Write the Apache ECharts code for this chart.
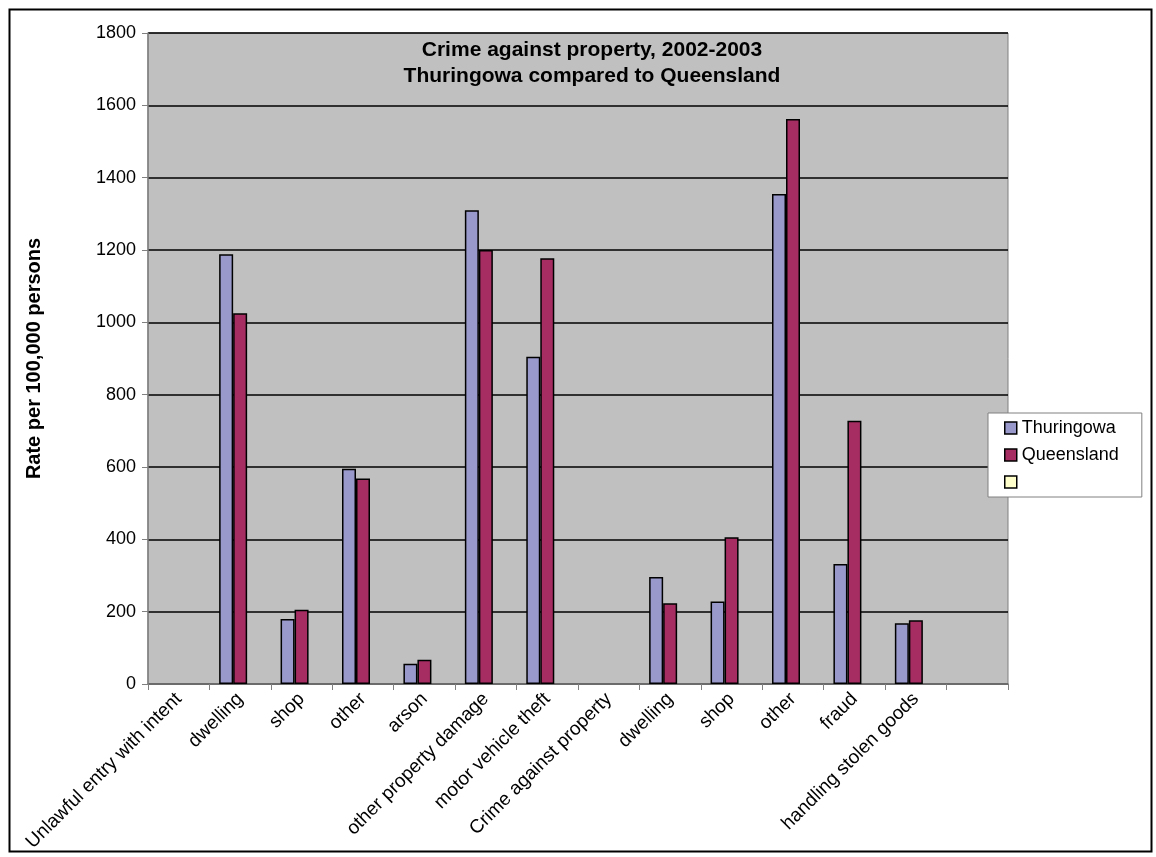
<!DOCTYPE html>
<html>
<head>
<meta charset="utf-8">
<script src="https://cdn.jsdelivr.net/npm/echarts@6/dist/echarts.min.js"></script>
<style>
  html, body { margin: 0; padding: 0; background: #ffffff; }
  #chart { width: 1156px; height: 857px; }
</style>
</head>
<body>
<div id="chart"></div>
<script>
// Offence categories along the x axis (last slot left empty)
const categories = [
  'Unlawful entry with intent', 'dwelling', 'shop', 'other', 'arson',
  'other property damage', 'motor vehicle theft', 'Crime against property',
  'dwelling', 'shop', 'other', 'fraud', 'handling stolen goods', ''
];

// Rates per 100,000 persons, 2002-2003
const thuringowa = [null, 1188, 180, 595, 56, 1310, 905, null, 296, 228, 1355, 332, 168, null];
const queensland = [null, 1025, 205, 568, 67, 1200, 1177, null, 223, 406, 1562, 728, 176, null];
const blankSeries = [null, null, null, null, null, null, null, null, null, null, null, null, null, null];

const yTicks = { min: 0, max: 1800, step: 200 };

const chart = echarts.init(document.getElementById('chart'));

const barStyle = (color) => ({
  color: color,
  borderColor: '#000000',
  borderWidth: 1.5
});

chart.setOption({
  animation: false,
  backgroundColor: '#ffffff',
  textStyle: { fontFamily: 'Liberation Sans, Arial, sans-serif' },
  title: {
    text: 'Crime against property, 2002-2003\nThuringowa compared to Queensland',
    left: 587,
    top: 32,
    textAlign: 'center',
    textStyle: {
      fontSize: 21,
      fontWeight: 'bold',
      color: '#000000',
      lineHeight: 26,
      fontFamily: 'Liberation Sans, Arial, sans-serif'
    }
  },
  legend: {
    orient: 'vertical',
    left: 988,
    top: 413,
    padding: [6, 23, 6, 16],
    itemWidth: 12,
    itemHeight: 12,
    itemGap: 9,
    backgroundColor: '#ffffff',
    borderColor: '#808080',
    borderWidth: 1,
    borderRadius: 0,
    icon: 'rect',
    textStyle: { fontSize: 18, color: '#000000', padding: [0, 0, 0, 0] },
    itemStyle: { borderColor: '#000000', borderWidth: 1.5 },
    data: ['Thuringowa', 'Queensland', ' ']
  },
  grid: {
    left: 148,
    right: 148,
    top: 33,
    bottom: 173,
    show: true,
    backgroundColor: '#C0C0C0',
    borderColor: '#808080',
    borderWidth: 1
  },
  xAxis: {
    type: 'category',
    data: categories,
    boundaryGap: true,
    axisLine: { lineStyle: { color: '#808080', width: 1.5 } },
    axisTick: { show: true, length: 6, alignWithLabel: false, lineStyle: { color: '#808080' } },
    axisLabel: {
      interval: 0,
      rotate: 45,
      margin: 12,
      fontSize: 19,
      color: '#000000'
    }
  },
  yAxis: {
    type: 'value',
    min: yTicks.min,
    max: yTicks.max,
    interval: yTicks.step,
    name: 'Rate per 100,000 persons',
    nameLocation: 'middle',
    nameGap: 104,
    nameTextStyle: { fontSize: 20, fontWeight: 'bold', color: '#000000' },
    axisLine: { show: true, lineStyle: { color: '#808080', width: 1.5 } },
    axisTick: { show: true, length: 6, lineStyle: { color: '#808080' } },
    axisLabel: {
      fontSize: 18,
      color: '#000000',
      margin: 12,
      formatter: (v) => String(v)
    },
    splitLine: { show: true, lineStyle: { color: '#000000', width: 1.5 } }
  },
  series: [
    {
      name: 'Thuringowa',
      type: 'bar',
      data: thuringowa,
      barWidth: 14,
      barGap: '0%',
      itemStyle: barStyle('#9999CC')
    },
    {
      name: 'Queensland',
      type: 'bar',
      data: queensland,
      barWidth: 14,
      barGap: '0%',
      itemStyle: barStyle('#A52D62')
    },
    {
      name: ' ',
      type: 'bar',
      data: blankSeries,
      barWidth: 14,
      barGap: '0%',
      itemStyle: barStyle('#FFFFCC')
    }
  ],
  graphic: [
    {
      type: 'rect',
      left: 7,
      top: 7,
      shape: { width: 1142, height: 842 },
      style: { fill: 'none', stroke: '#000000', lineWidth: 2 },
      silent: true
    }
  ]
});
</script>
</body>
</html>
